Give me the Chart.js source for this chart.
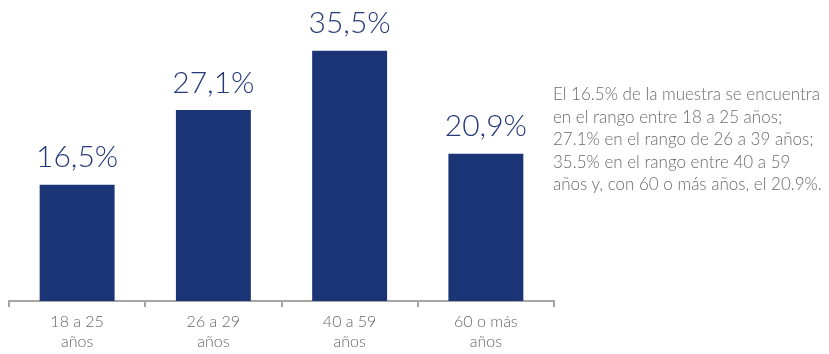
<!DOCTYPE html>
<html>
<head>
<meta charset="utf-8">
<script src="https://cdn.jsdelivr.net/npm/chart.js@4/dist/chart.umd.min.js"></script>
<style>
    html, body { margin: 0; padding: 0; background: #fff; }
    #wrap { position: relative; width: 829px; height: 354px; }
    #chartBox { position: absolute; left: 0; top: 0; width: 560px; height: 354px; }
    #note {
        position: absolute; left: 553px; top: 83px; width: 280px;
        font-family: Lato, sans-serif; font-weight: 300; font-size: 17px;
        line-height: 22.6px; color: #6b6b6b; white-space: nowrap;
    }
</style>
</head>
<body>
<div id="wrap">
    <div id="chartBox"><canvas id="ageChart"></canvas></div>
    <div id="note">El 16.5% de la muestra se encuentra<br>en el rango entre 18 a 25 años;<br>27.1% en el rango de 26 a 39 años;<br>35.5% en el rango entre 40 a 59<br>años y, con 60 o más años, el 20.9%.</div>
</div>
<script>
// ========== DATA ==========
const categories = [['18 a 25', 'años'], ['26 a 29', 'años'], ['40 a 59', 'años'], ['60 o más', 'años']];
const shares = [16.5, 27.1, 35.5, 20.9];

const barColor = '#1a3476';
const axisColor = '#a6a6a6';

// value labels above bars, comma decimal
const valueLabels = {
    id: 'valueLabels',
    afterDatasetsDraw(chart) {
        const ctx = chart.ctx;
        const meta = chart.getDatasetMeta(0);
        ctx.save();
        ctx.font = '300 30px Lato, sans-serif';
        ctx.fillStyle = '#26397a';
        ctx.textAlign = 'center';
        ctx.textBaseline = 'middle';
        meta.data.forEach((bar, i) => {
            const txt = shares[i].toFixed(1).replace('.', ',') + '%';
            ctx.fillText(txt, bar.x, bar.y - 27);
        });
        ctx.restore();
    }
};

new Chart(document.getElementById('ageChart'), {
    type: 'bar',
    data: {
        labels: categories,
        datasets: [{
            data: shares,
            backgroundColor: barColor,
            categoryPercentage: 1,
            barPercentage: 0.55
        }]
    },
    options: {
        responsive: true,
        maintainAspectRatio: false,
        animation: false,
        layout: { padding: { left: 9, right: 6, top: 19, bottom: 0 } },
        plugins: {
            legend: { display: false },
            tooltip: { enabled: false }
        },
        scales: {
            y: {
                display: false,
                min: 0,
                max: 40
            },
            x: {
                afterFit(scale) { scale.height = 53; },
                grid: {
                    offset: true,
                    drawOnChartArea: false,
                    drawTicks: true,
                    tickLength: 6,
                    color: axisColor,
                    lineWidth: 2
                },
                border: { display: true, color: axisColor, width: 2 },
                ticks: {
                    color: '#666666',
                    padding: 4,
                    font: { family: 'Lato, sans-serif', size: 16, weight: '300', lineHeight: 1.3 }
                }
            }
        }
    },
    plugins: [valueLabels]
});
</script>
</body>
</html>
